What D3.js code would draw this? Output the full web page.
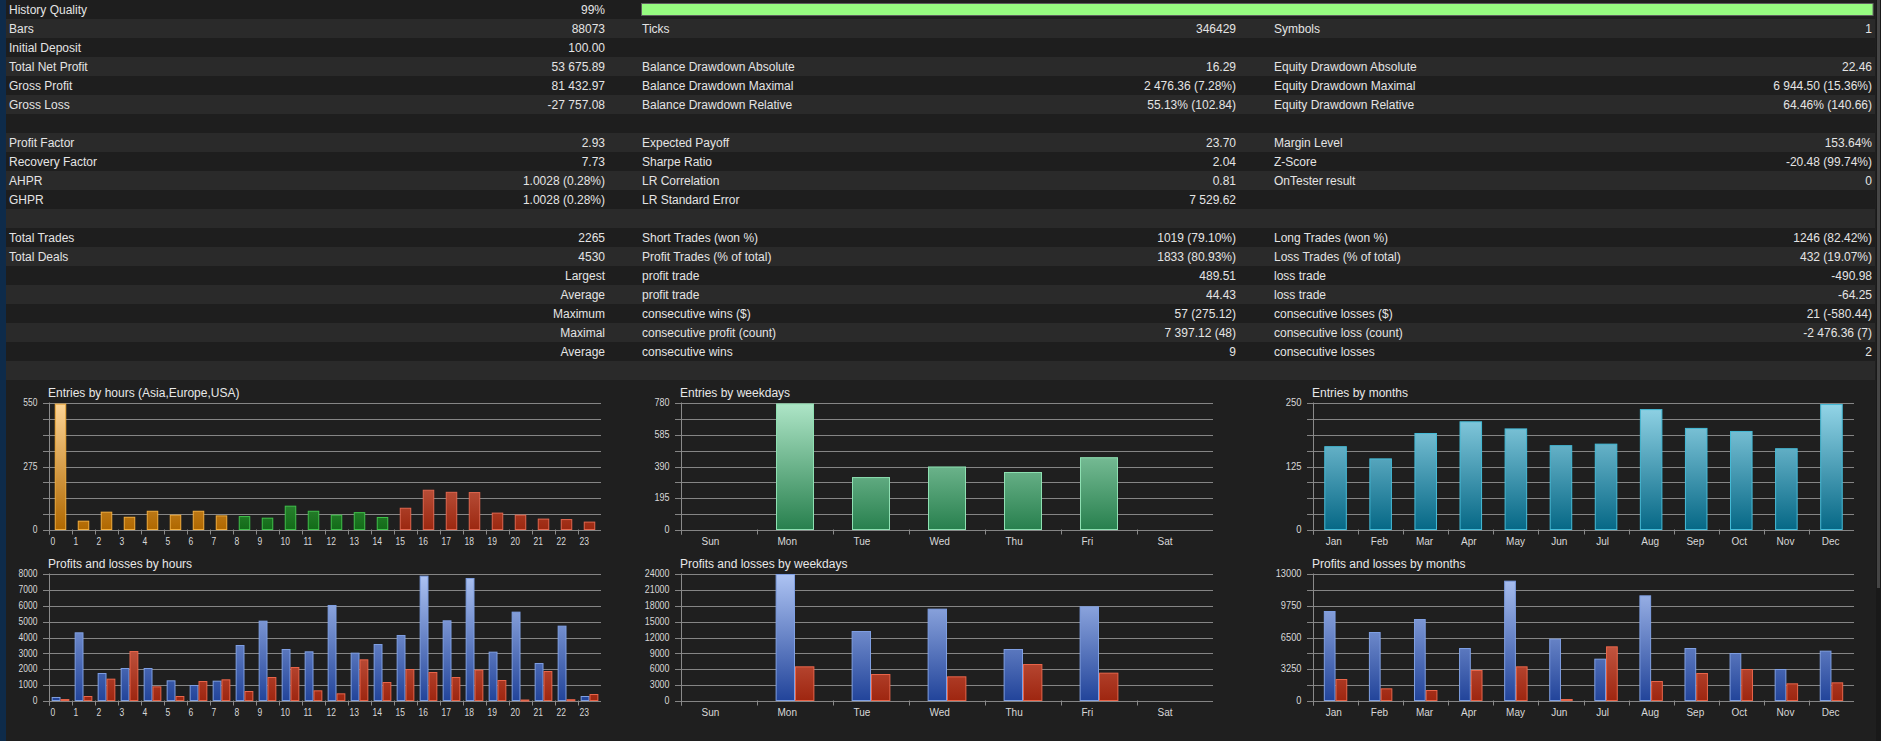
<!DOCTYPE html>
<html>
<head>
<meta charset="utf-8">
<script src="https://cdn.jsdelivr.net/npm/d3@7"></script>
<style>
  body { margin: 0; background: #1f1f1f; overflow: hidden; }
  text { font-family: "Liberation Sans", Arial, sans-serif; }
</style>
</head>
<body>
<div id="chart"></div>
<script>
/* Strategy tester report - table + 6 bar charts */

/* ---- table texts (20 rows, blank strings = empty cell) ---- */
const col1Labels = ["History Quality","Bars","Initial Deposit","Total Net Profit","Gross Profit","Gross Loss","",
  "Profit Factor","Recovery Factor","AHPR","GHPR","",
  "Total Trades","Total Deals","","","","","",""];
const col1Values = ["99%","88073","100.00","53 675.89","81 432.97","-27 757.08","",
  "2.93","7.73","1.0028 (0.28%)","1.0028 (0.28%)","",
  "2265","4530","Largest","Average","Maximum","Maximal","Average",""];
const col2Labels = ["","Ticks","","Balance Drawdown Absolute","Balance Drawdown Maximal","Balance Drawdown Relative","",
  "Expected Payoff","Sharpe Ratio","LR Correlation","LR Standard Error","",
  "Short Trades (won %)","Profit Trades (% of total)","profit trade","profit trade",
  "consecutive wins ($)","consecutive profit (count)","consecutive wins",""];
const col2Values = ["","346429","","16.29","2 476.36 (7.28%)","55.13% (102.84)","",
  "23.70","2.04","0.81","7 529.62","",
  "1019 (79.10%)","1833 (80.93%)","489.51","44.43","57 (275.12)","7 397.12 (48)","9",""];
const col3Labels = ["","Symbols","","Equity Drawdown Absolute","Equity Drawdown Maximal","Equity Drawdown Relative","",
  "Margin Level","Z-Score","OnTester result","","",
  "Long Trades (won %)","Loss Trades (% of total)","loss trade","loss trade",
  "consecutive losses ($)","consecutive loss (count)","consecutive losses",""];
const col3Values = ["","1","","22.46","6 944.50 (15.36%)","64.46% (140.66)","",
  "153.64%","-20.48 (99.74%)","0","","",
  "1246 (82.42%)","432 (19.07%)","-490.98","-64.25","21 (-580.44)","-2 476.36 (7)","2",""];
const historyQuality = 99;

/* ---- chart data ---- */
const hours = d3.range(24).map(String);
const hourEntries = [543,36,75,53,79,62,79,59,56,49,101,79,62,73,52,92,170,161,160,71,62,45,43,32];
const hourProfits = [190,4263,1700,2016,2016,1239,945,1218,3465,4998,3213,3066,5985,2982,3528,4095,7833,5019,7686,3045,5565,2331,4683,252];
const hourLosses  = [60,252,1344,3087,861,252,1197,1302,567,1449,2079,609,420,2562,1134,1953,1764,1449,1911,1260,30,1827,50,378];

const weekdays = ["Sun","Mon","Tue","Wed","Thu","Fri","Sat"];
const weekdayEntries = [0,771,319,384,350,441,0];
const weekdayProfits = [0,23814,13041,17262,9639,17703,0];
const weekdayLosses  = [0,6363,4914,4473,6804,5166,0];

const months = ["Jan","Feb","Mar","Apr","May","Jun","Jul","Aug","Sep","Oct","Nov","Dec"];
const monthEntries = [163,139,189,212,198,165,168,236,199,193,159,246];
const monthProfits = [9110,6960,8291,5323,12215,6278,4231,10714,5323,4811,3173,5050];
const monthLosses  = [2150,1194,1024,3071,3446,102,5493,1945,2764,3173,1706,1808];

/* y tick labels */
const hourEntryTicks = [0,275,550];
const hourPLTicks = [0,1000,2000,3000,4000,5000,6000,7000,8000];
const weekdayEntryTicks = [0,195,390,585,780];
const weekdayPLTicks = [0,3000,6000,9000,12000,15000,18000,21000,24000];
const monthEntryTicks = [0,125,250];
const monthPLTicks = [0,3250,6500,9750,13000];

const width = 1881, height = 741;
const rowH = 19;

const palette = {
  asia:   { top: "#fdd597", bottom: "#b06800", stroke: "#f2ad3c" },
  europe: { top: "#8ad88a", bottom: "#126b18", stroke: "#3fbf4a" },
  usa:    { top: "#f2a08e", bottom: "#9c2810", stroke: "#e0664e" },
  week:   { top: "#afe6c8", bottom: "#28804e", stroke: "#8ee0b2" },
  month:  { top: "#95d6e8", bottom: "#066886", stroke: "#45bcd8" },
  profit: { top: "#aec4f3", bottom: "#22449a", stroke: "#7f9fe2" },
  loss:   { top: "#f09480", bottom: "#9e2610", stroke: "#e8654a" }
};

const svg = d3.select("#chart")
  .append("svg")
  .attr("width", width)
  .attr("height", height)
  .attr("viewBox", [0, 0, width, height]);

const defs = svg.append("defs");

/* left blue strip + right scroll strip */
svg.append("rect").attr("x", 0).attr("y", 0).attr("width", 6).attr("height", height).attr("fill", "#0e2b4a");
svg.append("rect").attr("x", 1876).attr("y", 0).attr("width", 5).attr("height", height).attr("fill", "#191919");
svg.append("rect").attr("x", 1877).attr("y", 0).attr("width", 3).attr("height", 588).attr("fill", "#454545");

/* ---- table ---- */
const rows = d3.range(col1Labels.length);

svg.append("g").selectAll("rect")
  .data(rows)
  .join("rect")
  .attr("x", 6)
  .attr("y", d => d * rowH)
  .attr("width", 1869)
  .attr("height", rowH)
  .attr("fill", d => d % 2 ? "#2a2a2a" : "#1e1e1e");

const columns = [
  { texts: col1Labels, x: 9,    anchor: "start" },
  { texts: col1Values, x: 605,  anchor: "end" },
  { texts: col2Labels, x: 642,  anchor: "start" },
  { texts: col2Values, x: 1236, anchor: "end" },
  { texts: col3Labels, x: 1274, anchor: "start" },
  { texts: col3Values, x: 1872, anchor: "end" }
];

columns.forEach(col => {
  svg.append("g").selectAll("text")
    .data(rows.filter(r => col.texts[r] !== ""))
    .join("text")
    .attr("x", col.x)
    .attr("y", d => d * rowH + rowH / 2)
    .attr("dy", "0.36em")
    .attr("text-anchor", col.anchor)
    .attr("font-size", 12)
    .attr("fill", "#e4e4e4")
    .text(d => col.texts[d]);
});

/* history quality bar */
let q = d3.scaleLinear().domain([0, 100]).range([641, 1885]);
svg.append("rect")
  .attr("x", q(0) + 0.5)
  .attr("y", 3.5)
  .attr("width", q(historyQuality) - q(0))
  .attr("height", 12)
  .attr("fill", "#96fb80")
  .attr("stroke", "#5e5e5e");

/* ---- charts ---- */
const charts = [
  { title: "Entries by hours (Asia,Europe,USA)", x0: 49, x1: 601, top: 402.5, bottom: 529.5,
    cats: hours, max: 550, ticks: hourEntryTicks, ySx: 0.85, xSx: 0.85, labelAtBar: false, groupFrac: 0.5,
    series: [{ values: hourEntries, color: k => k < 8 ? "asia" : k < 15 ? "europe" : "usa" }] },
  { title: "Entries by weekdays", x0: 681, x1: 1213, top: 402.5, bottom: 529.5,
    cats: weekdays, max: 780, ticks: weekdayEntryTicks, ySx: 0.9, xSx: 1, labelAtBar: true, groupFrac: 0.5,
    series: [{ values: weekdayEntries, color: () => "week" }] },
  { title: "Entries by months", x0: 1313, x1: 1854, top: 402.5, bottom: 529.5,
    cats: months, max: 250, ticks: monthEntryTicks, ySx: 0.95, xSx: 1, labelAtBar: true, groupFrac: 0.5,
    series: [{ values: monthEntries, color: () => "month" }] },
  { title: "Profits and losses by hours", x0: 49, x1: 601, top: 573.5, bottom: 700.5,
    cats: hours, max: 8000, ticks: hourPLTicks, ySx: 0.85, xSx: 0.85, labelAtBar: false, groupFrac: 0.77,
    series: [{ values: hourProfits, color: () => "profit" }, { values: hourLosses, color: () => "loss" }] },
  { title: "Profits and losses by weekdays", x0: 681, x1: 1213, top: 573.5, bottom: 700.5,
    cats: weekdays, max: 24000, ticks: weekdayPLTicks, ySx: 0.89, xSx: 1, labelAtBar: true, groupFrac: 0.51,
    series: [{ values: weekdayProfits, color: () => "profit" }, { values: weekdayLosses, color: () => "loss" }] },
  { title: "Profits and losses by months", x0: 1313, x1: 1854, top: 573.5, bottom: 700.5,
    cats: months, max: 13000, ticks: monthPLTicks, ySx: 0.93, xSx: 1, labelAtBar: true, groupFrac: 0.52,
    series: [{ values: monthProfits, color: () => "profit" }, { values: monthLosses, color: () => "loss" }] }
];

charts.forEach((c, i) => {
  let x = d3.scaleBand().domain(c.cats).range([c.x0, c.x1]);
  let y = d3.scaleLinear().domain([0, c.max]).range([c.bottom, c.top]);
  const bw = x.bandwidth();

  /* gradients for this chart, spanning the plot height */
  Object.keys(palette).forEach(name => {
    const lg = defs.append("linearGradient")
      .attr("id", `g${i}-${name}`)
      .attr("gradientUnits", "userSpaceOnUse")
      .attr("x1", 0).attr("x2", 0)
      .attr("y1", c.top).attr("y2", c.bottom);
    lg.append("stop").attr("offset", 0).attr("stop-color", palette[name].top);
    lg.append("stop").attr("offset", 1).attr("stop-color", palette[name].bottom);
  });

  const g = svg.append("g");

  g.append("text")
    .attr("x", c.x0 - 1)
    .attr("y", c.top - 9.5)
    .attr("dy", "0.35em")
    .attr("font-size", 12)
    .attr("fill", "#e8e8e8")
    .text(c.title);

  /* grid lines, 8 steps */
  g.append("g")
    .attr("transform", `translate(${c.x0 - 6},0.5)`)
    .call(d3.axisLeft(y).tickValues(d3.range(9).map(k => c.max * k / 8)).tickSize(-(c.x1 - c.x0 + 6)).tickFormat(""))
    .call(a => a.select(".domain").remove())
    .selectAll("line")
    .attr("stroke", "#858585")
    .attr("shape-rendering", "crispEdges");

  /* y labels */
  g.append("g")
    .attr("transform", `translate(${c.x0 - 11.5},0)`)
    .call(d3.axisLeft(y).tickValues(c.ticks).tickSize(0).tickPadding(0).tickFormat(d3.format("d")))
    .call(a => a.select(".domain").remove())
    .selectAll("text")
    .attr("font-size", 10)
    .attr("font-family", "Liberation Sans, Arial, sans-serif")
    .attr("fill", "#d8d8d8")
    .attr("transform", `scale(${c.ySx},1)`);

  /* vertical axis line and x ticks */
  g.append("line")
    .attr("x1", c.x0 + 0.5).attr("x2", c.x0 + 0.5)
    .attr("y1", c.top).attr("y2", c.bottom + 5)
    .attr("stroke", "#8a8a8a");
  g.append("g").selectAll("line")
    .data(c.cats)
    .join("line")
    .attr("x1", d => Math.round(x(d)) + 0.5)
    .attr("x2", d => Math.round(x(d)) + 0.5)
    .attr("y1", c.bottom)
    .attr("y2", c.bottom + 5)
    .attr("stroke", "#8a8a8a");

  /* x labels */
  g.append("g").selectAll("text")
    .data(c.cats)
    .join("text")
    .attr("transform", d => `translate(${x(d) + (c.labelAtBar ? bw * 0.25 : 0) + 1.5},${c.bottom + 11.5}) scale(${c.xSx},1)`)
    .attr("dy", "0.35em")
    .attr("font-size", 10)
    .attr("fill", "#d8d8d8")
    .text(d => d);

  /* bars */
  const groupW = bw * c.groupFrac;
  const barW = groupW / c.series.length;
  c.series.forEach((s, si) => {
    const data = s.values.map((v, k) => ({ cat: c.cats[k], v, k })).filter(d => d.v > 0);
    g.append("g").selectAll("rect")
      .data(data)
      .join("rect")
      .attr("x", d => x(d.cat) + (bw - groupW) / 2 + si * barW + 0.5)
      .attr("width", barW - 1)
      .attr("y", d => y(d.v))
      .attr("height", d => Math.max(1, y(0) - y(d.v)))
      .attr("fill", d => `url(#g${i}-${s.color(d.k)})`)
      .attr("stroke", d => palette[s.color(d.k)].stroke)
      .attr("stroke-width", 1);
  });
});
</script>
</body>
</html>
